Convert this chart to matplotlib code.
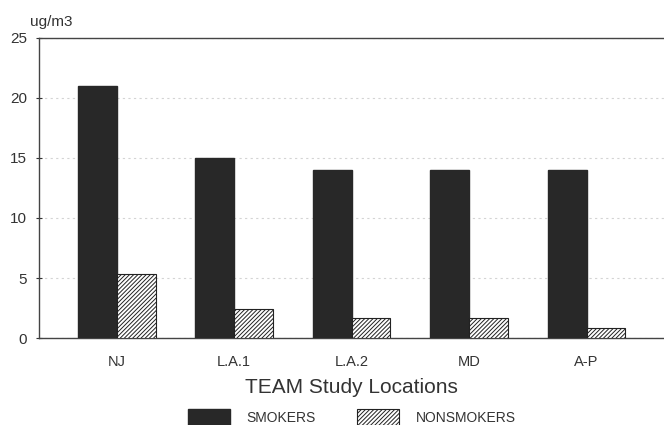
import numpy as np
import matplotlib
matplotlib.use('Agg')
import matplotlib.pyplot as plt

plt.rcParams['font.family'] = ['Liberation Sans', 'DejaVu Sans']
plt.rcParams['hatch.linewidth'] = 0.7

#Mean concentrations by TEAM location
locations = ['NJ', 'L.A.1', 'L.A.2', 'MD', 'A-P']
smokers = [21, 15, 14, 14, 14]
nonsmokers = [5.3, 2.4, 1.7, 1.7, 0.8]

fig = plt.figure(figsize=(6.64, 4.25), dpi=100)
ax = fig.add_axes([0.0587, 0.2047, 0.9413, 0.7059])

x = np.arange(len(locations))
w = 0.33
ax.bar(x - w/2, smokers, w, color='#282828', edgecolor='#282828', label='SMOKERS', zorder=3)
ax.bar(x + w/2, nonsmokers, w, color='white', edgecolor='#222222', hatch='////////',
       linewidth=0.8, label='NONSMOKERS', zorder=3)

ax.set_xlim(-0.663, 4.66)
ax.set_ylim(0, 25)
ax.set_yticks([0, 5, 10, 15, 20, 25])
ax.set_xticks(x)
ax.set_xticklabels(locations)
ax.tick_params(axis='x', length=0, pad=12, labelsize=10.5, colors='#333333')
ax.tick_params(axis='y', length=5, direction='inout', labelsize=11, colors='#333333', pad=6)
ax.yaxis.grid(True, linestyle=(0, (2, 3)), color='#d4d4d4', linewidth=0.8, zorder=0)
ax.spines['right'].set_visible(False)
for s in ['left', 'bottom', 'top']:
    ax.spines[s].set_color('#444444')
    ax.spines[s].set_linewidth(1.0)

ax.set_xlabel('TEAM Study Locations', fontsize=15, color='#333333', labelpad=7)
ax.text(-0.015, 1.03, 'ug/m3', transform=ax.transAxes, fontsize=11, color='#333333',
        ha='left', va='bottom')

fig.legend(loc='lower center', bbox_to_anchor=(0.53, -0.03), ncol=2, frameon=False,
           fontsize=10, handlelength=3.0, handleheight=1.4, handletextpad=1.2,
           columnspacing=3.0, labelcolor='#333333')

plt.savefig('out.png', dpi=100)
plt.close()
